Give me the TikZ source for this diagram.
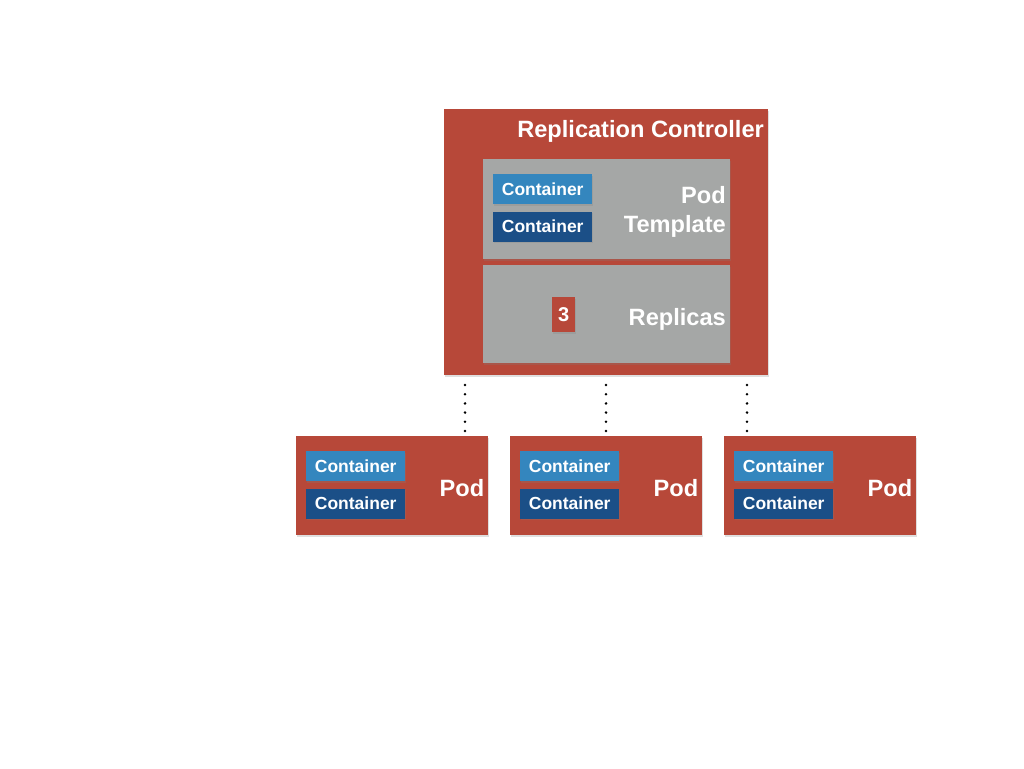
\documentclass[tikz,border=0pt]{standalone}
\usepackage{fontspec}
\setmainfont{Liberation Sans}
\usetikzlibrary{positioning, shadows}

\definecolor{rcred}{RGB}{183,72,57}
\definecolor{tplgray}{RGB}{165,167,166}
\definecolor{ctlight}{RGB}{52,134,190}
\definecolor{ctdark}{RGB}{27,79,135}

\begin{document}
\begin{tikzpicture}[x=1pt, y=-1pt,
                box/.style={inner sep=0pt, anchor=north west,
                    drop shadow={opacity=0.25, shadow xshift=1pt, shadow yshift=-1.5pt}},
                redbox/.style={box, fill=rcred},
                graybox/.style={box, fill=tplgray, minimum width=247pt},
                ctbox/.style={box, minimum width=99pt, minimum height=30pt,
                    text=white, font=\bfseries\fontsize{17.5}{19}\selectfont},
                bigtext/.style={inner sep=0pt, anchor=east, align=right, text=white,
                    font=\bfseries\fontsize{23.6}{29}\selectfont},
                podlink/.style={line width=2.8pt, line cap=round, dash pattern=on 0pt off 9.2pt}]
                \useasboundingbox (0,0) rectangle (1024,768);

                % Replication controller
                \node[redbox, minimum width=324pt, minimum height=266pt] (rc) at (444,109) {};
                \node[bigtext] (rctitle) at (764,131) {Replication Controller};

                % Pod template
                \node[graybox, minimum height=100pt] (tpl) at (483,159) {};
                \node[ctbox, fill=ctlight] (tc1) at (493,174) {Container};
                \node[ctbox, fill=ctdark, below=7pt of tc1.south west, anchor=north west] (tc2) {Container};
                \node[bigtext] (tpltext) at (726,212) {Pod\\Template};

                % Replicas
                \node[graybox, minimum height=98pt] (rep) at (483,265) {};
                \node[redbox, minimum width=23pt, minimum height=35pt, text=white,
                    font=\bfseries\fontsize{20}{22}\selectfont] (count) at (552,297) {3};
                \node[bigtext] (reptext) at (726,319) {Replicas};

                % Pods
                \foreach \i/\x in {1/296, 2/510, 3/724} {
                    \node[redbox, minimum width=192pt, minimum height=99pt] (pod\i) at (\x,436) {};
                    \node[ctbox, fill=ctlight] (pc\i a) at (\x+10,451) {Container};
                    \node[ctbox, fill=ctdark, below=7pt of pc\i a.south west, anchor=north west] (pc\i b) {Container};
                    \node[bigtext, left=4pt of pod\i.east, yshift=-2pt] (podtext\i) {Pod};
                }

                % Links
                \coordinate (l1) at (465,385);
                \coordinate (l2) at (606,385);
                \coordinate (l3) at (747,385);
                \draw[podlink] (l1) -- (l1 |- pod1.north);
                \draw[podlink] (l2) -- (l2 |- pod2.north);
                \draw[podlink] (l3) -- (l3 |- pod3.north);
\end{tikzpicture}
\end{document}
